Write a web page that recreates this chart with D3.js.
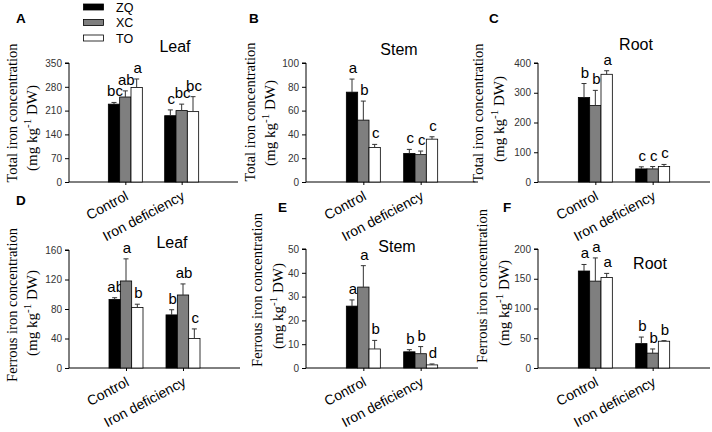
<!DOCTYPE html>
<html>
<head>
<meta charset="utf-8">
<script src="https://cdn.jsdelivr.net/npm/d3@7"></script>
<style>
  html, body { margin: 0; padding: 0; background: #fff; }
  svg { display: block; }
</style>
</head>
<body>
<svg id="chart" width="712" height="432"></svg>
<script>
// ---------------- DATA ----------------
const categories = ["Control", "Iron deficiency"];
const series = ["ZQ", "XC", "TO"];
const panelIds = ["A", "B", "C", "D", "E", "F"];
const tissues = ["Leaf", "Stem", "Root", "Leaf", "Stem", "Root"];
const yTitleMain = ["Total iron concentration", "Total iron concentration", "Total iron concentration",
                    "Ferrous iron concentration", "Ferrous iron concentration", "Ferrous iron concentration"];
const yMax = [350, 100, 400, 160, 50, 200];
const yStep = [70, 20, 100, 40, 10, 50];

// means: rows = categories, cols = series (ZQ, XC, TO)
const meansA = [[229, 250, 278], [195, 210, 207]];
const errA   = [[5, 18, 25], [17, 19, 44]];
const lettersA = [["bc", "ab", "a"], ["c", "bc", "bc"]];

const meansB = [[75.5, 52, 29], [24, 23, 36]];
const errB   = [[11, 16, 2.6], [3.4, 3, 2]];
const lettersB = [["a", "b", "c"], ["c", "c", "c"]];

const meansC = [[284, 257, 362], [44, 44, 52]];
const errC   = [[47, 51, 12], [7, 8, 7]];
const lettersC = [["b", "b", "a"], ["c", "c", "c"]];

const meansD = [[93, 118, 82], [72, 99, 40]];
const errD   = [[2.3, 30, 4.5], [7, 15, 13]];
const lettersD = [["ab", "a", "b"], ["b", "ab", "c"]];

const meansE = [[26, 34, 8], [6.8, 6, 1.3]];
const errE   = [[2.6, 9, 3.6], [0.9, 3, 0.4]];
const lettersE = [["a", "a", "b"], ["b", "b", "d"]];

const meansF = [[163, 146, 152], [41, 25, 45]];
const errF   = [[11, 39, 7], [11, 7, 1]];
const lettersF = [["a", "a", "a"], ["b", "b", "b"]];

const allMeans = [meansA, meansB, meansC, meansD, meansE, meansF];
const allErr = [errA, errB, errC, errD, errE, errF];
const allLetters = [lettersA, lettersB, lettersC, lettersD, lettersE, lettersF];

// ---------------- LAYOUT ----------------
const layout = [
  {ax: 69,  xEnd: 238, y0: 182, yTop: 63,  tX: 175, tY: 52,  lX: 16,  lY: 23,  t1X: 17,  t1Y: 113, t2X: 37,  t2Y: 128},
  {ax: 306, xEnd: 478, y0: 182, yTop: 63,  tX: 399, tY: 55,  lX: 249, lY: 23,  t1X: 255, t1Y: 112, t2X: 275, t2Y: 123},
  {ax: 538, xEnd: 710, y0: 182, yTop: 63,  tX: 636, tY: 50,  lX: 489, lY: 23,  t1X: 483, t1Y: 113, t2X: 504, t2Y: 119},
  {ax: 69,  xEnd: 240, y0: 368, yTop: 250, tX: 172, tY: 248, lX: 16,  lY: 205, t1X: 17,  t1Y: 305, t2X: 37,  t2Y: 313},
  {ax: 306, xEnd: 478, y0: 368, yTop: 249, tX: 397, tY: 252, lX: 278, lY: 212, t1X: 262, t1Y: 290, t2X: 283, t2Y: 306},
  {ax: 538, xEnd: 710, y0: 368, yTop: 249, tX: 650, tY: 269, lX: 503, lY: 212, t1X: 487, t1Y: 286, t2X: 509, t2Y: 303}
];

const colors = d3.scaleOrdinal().domain(series).range(["#000000", "#7f7f7f", "#ffffff"]);
const svg = d3.select("#chart");
const SANS = "Arial, 'Liberation Sans', sans-serif";
const SERIF = "'Times New Roman', 'Liberation Serif', serif";

// legend
const legend = svg.append("g");
series.forEach((s, i) => {
  const yc = 7 + i * 15.5;
  legend.append("rect").attr("x", 83.5).attr("y", yc - 3).attr("width", 20).attr("height", 6)
    .attr("fill", colors(s)).attr("stroke", "#000").attr("stroke-width", 0.8);
  legend.append("text").attr("x", 116).attr("y", yc + 4.5).text(s)
    .attr("font-family", SANS).attr("font-size", 12.5).attr("fill", "#000");
});

panelIds.forEach((pid, p) => {
  const L = layout[p];
  const g = svg.append("g");
  const y = d3.scaleLinear().domain([0, yMax[p]]).range([L.y0, L.yTop]);
  const x = d3.scalePoint().domain(categories).range([L.ax, L.xEnd]).padding(1);
  const xs = d3.scaleBand().domain(series).range([-17, 17]);

  // y axis
  const ticks = d3.range(0, yMax[p] + yStep[p] / 2, yStep[p]);
  const yAxis = d3.axisLeft(y).tickValues(ticks).tickSize(4).tickPadding(3).tickFormat(d3.format("d"));
  const ya = g.append("g").attr("transform", `translate(${L.ax},0)`).call(yAxis);
  ya.select(".domain").attr("stroke", "#000").attr("d", `M-4,${L.yTop}H0V${L.y0}`);
  ya.selectAll(".tick line").attr("stroke", "#000");
  ya.selectAll(".tick text").attr("font-family", SANS).attr("font-size", 10).attr("fill", "#333");

  // x axis
  const xAxis = d3.axisBottom(x).tickSize(3).tickFormat("");
  const xa = g.append("g").attr("transform", `translate(0,${L.y0})`).call(xAxis);
  xa.select(".domain").attr("stroke", "#000").attr("d", `M${L.ax},0H${L.xEnd}`);
  xa.selectAll(".tick line").attr("stroke", "#000");

  // bars
  categories.forEach((c, ci) => {
    series.forEach((s, si) => {
      const v = allMeans[p][ci][si];
      const e = allErr[p][ci][si];
      const bx = x(c) + xs(s);
      const bw = xs.bandwidth();
      g.append("rect").attr("x", bx).attr("y", y(v)).attr("width", bw).attr("height", L.y0 - y(v))
        .attr("fill", colors(s)).attr("stroke", "#000").attr("stroke-width", 0.8);
      const cx = bx + bw / 2;
      g.append("line").attr("x1", cx).attr("x2", cx).attr("y1", y(v)).attr("y2", y(v + e))
        .attr("stroke", "#333").attr("stroke-width", 1);
      g.append("line").attr("x1", cx - 2.5).attr("x2", cx + 2.5).attr("y1", y(v + e)).attr("y2", y(v + e))
        .attr("stroke", "#333").attr("stroke-width", 1);
      g.append("text").attr("x", cx + 1).attr("y", y(v + e) - 6).attr("text-anchor", "middle")
        .attr("font-family", SANS).attr("font-size", 15).attr("fill", "#000")
        .text(allLetters[p][ci][si]);
    });
    // category label
    g.append("text")
      .attr("transform", `translate(${x(c) + 4},${L.y0 + 17}) rotate(-28)`)
      .attr("text-anchor", "end").attr("font-family", SANS).attr("font-size", 14).attr("fill", "#000")
      .text(c);
  });

  // tissue title
  g.append("text").attr("x", L.tX).attr("y", L.tY).attr("text-anchor", "middle")
    .attr("font-family", SANS).attr("font-size", 16).attr("fill", "#000").text(tissues[p]);

  // panel letter
  g.append("text").attr("x", L.lX).attr("y", L.lY).attr("font-family", SANS)
    .attr("font-weight", "bold").attr("font-size", 13.5).attr("fill", "#000").text(pid);

  // y titles
  g.append("text").attr("transform", `translate(${L.t1X},${L.t1Y}) rotate(-90)`)
    .attr("text-anchor", "middle").attr("font-family", SERIF).attr("font-size", 14.5).attr("fill", "#000")
    .text(yTitleMain[p]);
  const t2 = g.append("text").attr("transform", `translate(${L.t2X},${L.t2Y}) rotate(-90)`)
    .attr("text-anchor", "middle").attr("font-family", SERIF).attr("font-size", 15).attr("fill", "#000");
  t2.append("tspan").text("(mg kg");
  t2.append("tspan").attr("dy", -6).attr("font-size", 11).text("-1");
  t2.append("tspan").attr("dy", 6).text(" DW)");
});
</script>
</body>
</html>
